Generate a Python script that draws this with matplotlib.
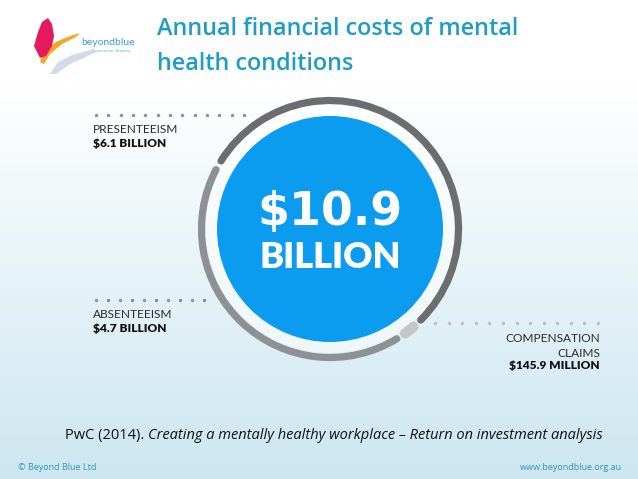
import numpy as np
import matplotlib
matplotlib.use("Agg")
import matplotlib.pyplot as plt
from matplotlib.patches import Arc, Circle, Polygon
from matplotlib.colors import LinearSegmentedColormap

# ---- data ----
categories = ["PRESENTEEISM", "COMPENSATION\nCLAIMS", "ABSENTEEISM"]
values_bn = [6.1, 0.1459, 4.7]
value_labels = ["$6.1 BILLION", "$145.9 MILLION", "$4.7 BILLION"]
total_label = "$10.9"
total_unit = "BILLION"
title_lines = ["Annual financial costs of mental", "health conditions"]
seg_colors = ["#6b6d70", "#c3c7ca", "#8d9195"]

W, H = 638, 479
fig = plt.figure(figsize=(W / 100, H / 100), dpi=100)
ax = fig.add_axes([0, 0, 1, 1])
ax.set_xlim(0, W)
ax.set_ylim(0, H)
ax.set_aspect("auto")
ax.axis("off")

def Y(py):
    return H - py

# ---- background gradient ----
bg = LinearSegmentedColormap.from_list(
    "bg", [(0.0, "#ffffff"), (0.18, "#ffffff"), (0.45, "#eef7fa"),
           (0.75, "#dceef5"), (1.0, "#cde6f0")])
grad = np.linspace(0, 1, 256).reshape(-1, 1)
ax.imshow(grad, cmap=bg, extent=[0, W, 0, H], origin="upper", aspect="auto", zorder=0)

# ---- logo ----
ax.add_patch(Polygon([(50, Y(74)), (58, Y(62)), (72, Y(55)), (90, Y(50)), (96, Y(52)),
                      (84, Y(58)), (70, Y(64)), (56, Y(74))], closed=True,
                     color="#cdd8e8", alpha=0.9, zorder=2, lw=0))
ax.add_patch(Polygon([(40, Y(62)), (44, Y(52)), (56, Y(42)), (70, Y(36)), (80, Y(33)),
                      (76, Y(37)), (62, Y(44)), (50, Y(54)), (44, Y(64))], closed=True,
                     color="#f5a623", zorder=3, lw=0))
ax.add_patch(Polygon([(37, Y(52)), (34, Y(46)), (38, Y(32)), (42, Y(22)), (48, Y(18)),
                      (52, Y(24)), (54, Y(36)), (52, Y(46)), (46, Y(56)), (40, Y(58))],
                     closed=True, color="#e5195e", zorder=4, lw=0))
ax.text(81, Y(45), "beyondblue", fontsize=7.5, color="#3aa3cc", family="Lato",
        ha="left", va="baseline", zorder=5)
ax.text(92, Y(52), "Depression. Anxiety.", fontsize=3.2, color="#6ab3d0", family="Lato",
        ha="left", va="baseline", zorder=5)

# ---- title ----
ax.text(157, Y(35), title_lines[0], fontsize=16.8, color="#1d9cc6",
        family="Open Sans", fontweight="semibold", ha="left", va="baseline")
ax.text(157, Y(70), title_lines[1], fontsize=16.8, color="#1d9cc6",
        family="Open Sans", fontweight="semibold", ha="left", va="baseline")

# ---- donut ----
cx, cy = 330, Y(229)
r_ring = 128.5
r_blue = 113
ax.add_patch(Circle((cx, cy), 124, color="white", alpha=0.55, zorder=2, lw=0))
ax.add_patch(Circle((cx, cy), r_blue, color="#0b9cf0", zorder=3, lw=0))

gap = 4.5
avail = 360 - gap * len(values_bn)
total = sum(values_bn)
start = 148.0
for val, col in zip(values_bn, seg_colors):
    span = val / total * avail
    end = start - span
    lw = 7.5 if val / total < 0.05 else 5.2
    ax.add_patch(Arc((cx, cy), 2 * r_ring, 2 * r_ring, theta1=end, theta2=start,
                     color=col, lw=lw, capstyle="round", zorder=4))
    start = end - gap

ax.text(cx, Y(212), total_label, fontsize=33, color="white", family="DejaVu Sans",
        fontweight="bold", ha="center", va="center", zorder=5)
ax.text(cx, Y(257), total_unit, fontsize=26, color="white", family="Lato",
        fontweight="heavy", ha="center", va="center", zorder=5)

# ---- leader dots ----
ax.scatter(np.linspace(96, 244, 13), [Y(115)] * 13, s=6, color="#8e9193", lw=0, zorder=4)
ax.scatter(np.linspace(96, 204, 10), [Y(300)] * 10, s=6, color="#8e9193", lw=0, zorder=4)
ax.scatter(np.linspace(435, 598, 13), [Y(323)] * 13, s=6, color="#bcc0c3", lw=0, zorder=4)

# ---- labels ----
lab_kw = dict(fontsize=8.6, color="#2a2a2a", family="Lato", fontweight="normal")
val_kw = dict(fontsize=8.6, color="#111111", family="Lato", fontweight="heavy")
ax.text(93, Y(133), categories[0], ha="left", va="baseline", **lab_kw)
ax.text(93, Y(147), value_labels[0], ha="left", va="baseline", **val_kw)
ax.text(93, Y(318), categories[2], ha="left", va="baseline", **lab_kw)
ax.text(93, Y(332), value_labels[2], ha="left", va="baseline", **val_kw)
comp_lines = categories[1].split("\n")
ax.text(600, Y(342), comp_lines[0], ha="right", va="baseline", **lab_kw)
ax.text(600, Y(357), comp_lines[1], ha="right", va="baseline", **lab_kw)
ax.text(600, Y(369), value_labels[1], ha="right", va="baseline", **val_kw)

# ---- citation ----
t1 = ax.text(65, Y(439), "PwC (2014). ", fontsize=10.5, color="#111111", family="Open Sans",
             ha="left", va="baseline")
fig.canvas.draw()
bb = t1.get_window_extent()
ax.text(bb.x1, Y(439), "Creating a mentally healthy workplace \u2013 Return on investment analysis",
        fontsize=10.5, color="#111111", family="Open Sans", style="italic",
        ha="left", va="baseline")

# ---- footer ----
ax.text(18, Y(470), "\u00a9 Beyond Blue Ltd", fontsize=6.5, color="#2b97bf", family="Open Sans",
        ha="left", va="baseline")
ax.text(622, Y(470), "www.beyondblue.org.au", fontsize=6.5, color="#2b97bf", family="Open Sans",
        ha="right", va="baseline")

fig.savefig("out.png", dpi=100)
